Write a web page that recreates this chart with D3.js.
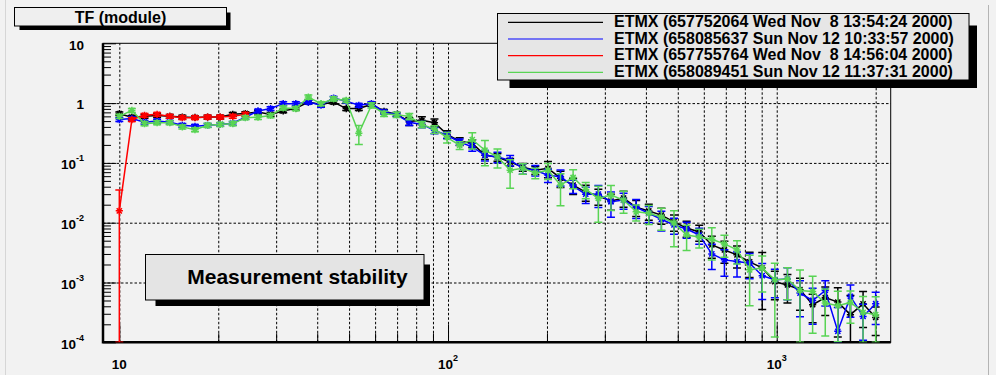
<!DOCTYPE html>
<html>
<head>
<meta charset="utf-8">
<script src="https://cdn.jsdelivr.net/npm/d3@7"></script>
<style>
  body { margin: 0; background: #f2f2f2; }
  svg { display: block; }
  text { font-family: 'Liberation Sans', Arial, Helvetica, sans-serif; font-weight: bold; fill: #000; }
</style>
</head>
<body>
<div id="chart"></div>
<script>
// frequencies (Hz), same sweep for every measurement
const freq = [10.00, 10.92, 11.93, 13.03, 14.24, 15.55, 16.99, 18.56, 20.27, 22.14,
  24.18, 26.42, 28.85, 31.52, 34.43, 37.60, 41.08, 44.87, 49.01, 53.54,
  58.48, 63.88, 69.78, 76.22, 83.26, 90.94, 99.34, 108.5, 118.5, 129.5,
  141.4, 154.5, 168.8, 184.3, 201.4, 219.9, 240.2, 262.4, 286.7, 313.1,
  342.0, 373.6, 408.1, 445.8, 486.9, 531.9, 581.0, 634.6, 693.2, 757.2,
  827.1, 903.4, 986.8, 1078, 1177, 1286, 1405, 1534, 1676, 1831, 2000];

// |TF| values
const blackVal = [0.666, 0.58, 0.60, 0.62, 0.60, 0.585, 0.575, 0.584, 0.584, 0.648,
  0.67, 0.71, 0.648, 0.74, 0.816, 1.04, 0.95, 1.04, 0.81, 0.81,
  0.95, 0.73, 0.648, 0.495, 0.515, 0.47, 0.30, 0.23, 0.213, 0.134,
  0.125, 0.103, 0.085, 0.0755, 0.081, 0.0556, 0.0425, 0.0325, 0.0279, 0.023,
  0.0258, 0.0181, 0.0157, 0.0134, 0.0103, 0.00817, 0.007, 0.00425, 0.0035, 0.0029,
  0.00221, 0.00176, 0.00103, 0.00091, 0.00076, 0.000425, 0.00056, 0.00047, 0.00029, 0.00044, 0.00026];
const blueVal = [0.53, 0.55, 0.48, 0.50, 0.48, 0.425, 0.41, 0.425, 0.44, 0.46,
  0.58, 0.74, 0.81, 0.98, 0.98, 1.04, 0.92, 1.21, 1.08, 0.92,
  0.98, 0.71, 0.64, 0.48, 0.44, 0.35, 0.29, 0.224, 0.185, 0.134,
  0.126, 0.111, 0.081, 0.0755, 0.0624, 0.0585, 0.041, 0.030, 0.030, 0.0224,
  0.0239, 0.0181, 0.0144, 0.0114, 0.00916, 0.00785, 0.00624, 0.00301, 0.00239, 0.00224,
  0.0021, 0.0013, 0.00111, 0.00114, 0.000666, 0.0005, 0.000736, 0.000153, 0.000585, 0.000271, 0.000442];
const redVal = [0.0158, 0.53, 0.624, 0.648, 0.60, 0.571, 0.571, 0.584, 0.584, 0.60, 0.648];
const greenVal = [0.60, 0.755, 0.454, 0.47, 0.47, 0.40, 0.36, 0.425, 0.44, 0.454,
  0.57, 0.58, 0.62, 0.83, 0.81, 1.26, 0.98, 1.18, 1.11, 0.313,
  0.92, 0.666, 0.64, 0.60, 0.44, 0.365, 0.268, 0.197, 0.245, 0.163,
  0.126, 0.0755, 0.081, 0.068, 0.0755, 0.0425, 0.057, 0.036, 0.0255, 0.029,
  0.0239, 0.0152, 0.0144, 0.01245, 0.00989, 0.00624, 0.00578, 0.00529, 0.00442, 0.00351,
  0.00163, 0.00174, 0.00111, 0.00114, 0.000736, 0.000708, 0.000454, 0.000409, 0.000464, 0.000316, 0.00029];

// relative errors (error = value * relErr)
const blackErr = [0.07, 0.07, 0.07, 0.07, 0.07, 0.07, 0.07, 0.07, 0.07, 0.07,
  0.07, 0.07, 0.07, 0.07, 0.07, 0.07, 0.07, 0.07, 0.07, 0.07,
  0.07, 0.07, 0.07, 0.15, 0.15, 0.15, 0.15, 0.15, 0.15, 0.15,
  0.15, 0.15, 0.15, 0.15, 0.3, 0.3, 0.3, 0.3, 0.3, 0.3,
  0.3, 0.3, 0.3, 0.3, 0.3, 0.3, 0.3, 0.4, 0.4, 0.4,
  0.45, 0.8, 0.5, 0.5, 0.55, 0.5, 0.5, 0.74, 1.1, 0.6, 0.5];
const blueErr = [0.07, 0.07, 0.07, 0.07, 0.07, 0.07, 0.07, 0.07, 0.07, 0.07,
  0.07, 0.07, 0.07, 0.07, 0.07, 0.07, 0.07, 0.07, 0.07, 0.07,
  0.07, 0.07, 0.07, 0.12, 0.12, 0.12, 0.12, 0.12, 0.15, 0.2,
  0.2, 0.2, 0.2, 0.2, 0.25, 0.3, 0.25, 0.3, 0.4, 0.45,
  0.3, 0.35, 0.3, 0.36, 0.3, 0.3, 0.3, 0.45, 0.47, 0.45,
  0.45, 0.6, 0.5, 0.55, 0.6, 0.6, 0.45, 1.5, 0.55, 0.6, 0.55];
const redErr = [1.22, 0.07, 0.07, 0.07, 0.07, 0.07, 0.07, 0.07, 0.07, 0.07, 0.07];
const greenErr = [0.08, 0.08, 0.08, 0.08, 0.08, 0.08, 0.08, 0.08, 0.08, 0.08,
  0.08, 0.08, 0.08, 0.08, 0.08, 0.08, 0.08, 0.08, 0.08, 0.35,
  0.1, 0.1, 0.1, 0.12, 0.12, 0.15, 0.2, 0.15, 0.3, 0.45,
  0.35, 0.5, 0.2, 0.2, 0.3, 0.55, 0.35, 0.3, 0.6, 0.45,
  0.4, 0.3, 0.35, 0.4, 0.6, 0.45, 0.35, 0.55, 0.4, 0.42,
  0.75, 0.6, 0.89, 0.55, 1.2, 0.8, 0.72, 0.75, 0.55, 0.85, 1.0];

const legendLabels = [
  'ETMX (657752064 Wed Nov \u00a08 13:54:24 2000)',
  'ETMX (658085637 Sun Nov 12 10:33:57 2000)',
  'ETMX (657755764 Wed Nov \u00a08 14:56:04 2000)',
  'ETMX (658089451 Sun Nov 12 11:37:31 2000)'
];
const seriesColors = ['#000000', '#0000ff', '#ff0000', '#59d454'];
const xLabelExps = [1, 2, 3];
const yLabelExps = [1, 0, -1, -2, -3, -4];

const W = 996, H = 375;
const frame = { left: 103, right: 890.7, top: 43.3, bottom: 342.3 };

const x = d3.scaleLog().domain([8.92, 2222]).range([frame.left, frame.right]);
const y = d3.scaleLog().domain([1e-4, 10]).range([frame.bottom, frame.top]);

const svg = d3.select('#chart').append('svg').attr('width', W).attr('height', H);

svg.append('rect').attr('width', W).attr('height', H).attr('fill', '#f2f2f2');
svg.append('line').attr('x1', 5.5).attr('x2', 5.5).attr('y1', 0).attr('y2', H)
  .attr('stroke', '#d6d6d6');
svg.append('line').attr('x1', 988.5).attr('x2', 988.5).attr('y1', 5).attr('y2', H)
  .attr('stroke', '#b4b4b4');

// tick values
const xMinor = [], xMajor = [10, 100, 1000];
[10, 100, 1000].forEach(d => { for (let k = 2; k <= 9; k++) if (k * d < 2222) xMinor.push(k * d); });
const yMinor = [], yMajor = [1e-4, 1e-3, 1e-2, 1e-1, 1, 10];
[1e-4, 1e-3, 1e-2, 1e-1, 1].forEach(d => { for (let k = 2; k <= 9; k++) yMinor.push(k * d); });

const plotH = frame.bottom - frame.top;
const plotW = frame.right - frame.left;

// grid
svg.append('g')
  .attr('transform', `translate(0,${frame.bottom})`)
  .call(d3.axisBottom(x).tickValues(xMajor.concat(xMinor)).tickSize(-plotH).tickFormat(''))
  .call(g => g.select('.domain').remove())
  .selectAll('line').attr('stroke', '#000').attr('stroke-dasharray', '2.5,2');
svg.append('g')
  .attr('transform', `translate(${frame.left},0)`)
  .call(d3.axisLeft(y).tickValues([1e-3, 1e-2, 1e-1, 1]).tickSize(-plotW).tickFormat(''))
  .call(g => g.select('.domain').remove())
  .selectAll('line').attr('stroke', '#000').attr('stroke-dasharray', '2.5,2');

// ticks
const tickAxis = (axis, tr) => svg.append('g').attr('transform', tr)
  .call(axis.tickFormat(''))
  .call(g => g.select('.domain').remove())
  .selectAll('line').attr('stroke', '#000');
tickAxis(d3.axisBottom(x).tickValues(xMinor).tickSize(-9), `translate(0,${frame.bottom})`);
tickAxis(d3.axisBottom(x).tickValues(xMajor).tickSize(-18), `translate(0,${frame.bottom})`);
tickAxis(d3.axisLeft(y).tickValues(yMinor).tickSize(-8), `translate(${frame.left},0)`);
tickAxis(d3.axisLeft(y).tickValues(yMajor).tickSize(-13), `translate(${frame.left},0)`);

// frame
svg.append('rect')
  .attr('x', frame.left).attr('y', frame.top).attr('width', plotW).attr('height', plotH)
  .attr('fill', 'none').attr('stroke', '#000').attr('stroke-width', 1);
svg.append('path')
  .attr('d', `M${frame.left},${frame.top}V${frame.bottom}H${frame.right}`)
  .attr('fill', 'none').attr('stroke', '#000').attr('stroke-width', 2.5);

// axis labels
const xl = svg.append('g').selectAll('text').data(xLabelExps).join('text')
  .attr('x', d => x(Math.pow(10, d)))
  .attr('y', frame.bottom + 27)
  .attr('text-anchor', 'middle')
  .style('font-size', '13.5px');
xl.append('tspan').text('10');
xl.filter(d => d > 1).append('tspan').attr('dy', -8.5).style('font-size', '9px').text(d => d);

const yl = svg.append('g').selectAll('text').data(yLabelExps).join('text')
  .attr('x', 84)
  .attr('y', d => y(Math.pow(10, d)) + 6.3)
  .attr('text-anchor', 'end')
  .style('font-size', '13.5px');
yl.append('tspan').text(d => d === 0 ? '1' : '10');
yl.filter(d => d < 0).append('tspan').attr('dy', -8).style('font-size', '9px').text(d => '-' + (-d));

// data
svg.append('clipPath').attr('id', 'clip').append('rect')
  .attr('x', frame.left).attr('y', frame.top).attr('width', plotW).attr('height', plotH);
const plot = svg.append('g').attr('clip-path', 'url(#clip)');

const series = [
  { vals: blackVal, errs: blackErr, color: seriesColors[0] },
  { vals: blueVal, errs: blueErr, color: seriesColors[1] },
  { vals: redVal, errs: redErr, color: seriesColors[2] },
  { vals: greenVal, errs: greenErr, color: seriesColors[3] }
];
const yMin = y.domain()[0];
const line = d3.line().x(d => x(d.f)).y(d => y(d.v));
const s = 3.6, dg = 2.6;
const star = `M${-s},0H${s}M0,${-s}V${s}M${-dg},${-dg}L${dg},${dg}M${-dg},${dg}L${dg},${-dg}`;

series.forEach(sr => {
  const pts = sr.vals.map((v, i) => ({ f: freq[i], v: v, e: v * sr.errs[i] }));
  const g = plot.append('g');
  g.append('path').datum(pts).attr('d', line)
    .attr('fill', 'none').attr('stroke', sr.color).attr('stroke-width', 1.5);
  const eb = g.selectAll('.eb').data(pts).join('g')
    .attr('transform', d => `translate(${x(d.f)},0)`);
  const lo = d => y(Math.max(d.v - d.e, yMin));
  const hi = d => y(d.v + d.e);
  eb.append('line').attr('y1', lo).attr('y2', hi)
    .attr('stroke', sr.color).attr('stroke-width', 1.5);
  eb.append('line').attr('x1', -4).attr('x2', 4).attr('y1', lo).attr('y2', lo)
    .attr('stroke', sr.color).attr('stroke-width', 1.5);
  eb.append('line').attr('x1', -4).attr('x2', 4).attr('y1', hi).attr('y2', hi)
    .attr('stroke', sr.color).attr('stroke-width', 1.5);
  eb.append('path').attr('d', star)
    .attr('transform', d => `translate(0,${y(d.v)})`)
    .attr('fill', 'none').attr('stroke', sr.color).attr('stroke-width', 1.5);
});

// boxes with shadow
function pave(x1, y1, x2, y2, off, thick, fill) {
  svg.append('rect').attr('x', x1 + off).attr('y', y1 + off)
    .attr('width', x2 - x1 - off + thick).attr('height', y2 - y1 - off + thick).attr('fill', '#000');
  svg.append('rect').attr('x', x1).attr('y', y1).attr('width', x2 - x1).attr('height', y2 - y1)
    .attr('fill', fill).attr('stroke', '#000').attr('stroke-width', 1);
}

pave(14.5, 7.5, 226.5, 26, 5, 4, '#efefef');
svg.append('text').attr('x', 120.5).attr('y', 22.5).attr('text-anchor', 'middle')
  .style('font-size', '16px').text('TF (module)');

pave(497.5, 13.5, 969, 80, 12, 8, '#e6e6e6');
legendLabels.forEach((t, i) => {
  const ly = 22.3 + i * 16.7;
  svg.append('line').attr('x1', 508).attr('x2', 603).attr('y1', ly).attr('y2', ly)
    .attr('stroke', seriesColors[i]).attr('stroke-width', 1.2);
  svg.append('text').attr('x', 614).attr('y', ly + 4.5)
    .style('font-size', '16px').text(t);
});

pave(145.5, 254.5, 424, 300, 10, 6, '#e4e4e4');
svg.append('text').attr('x', 297.5).attr('y', 283.5).attr('text-anchor', 'middle')
  .style('font-size', '21px').text('Measurement stability');
</script>
</body>
</html>
